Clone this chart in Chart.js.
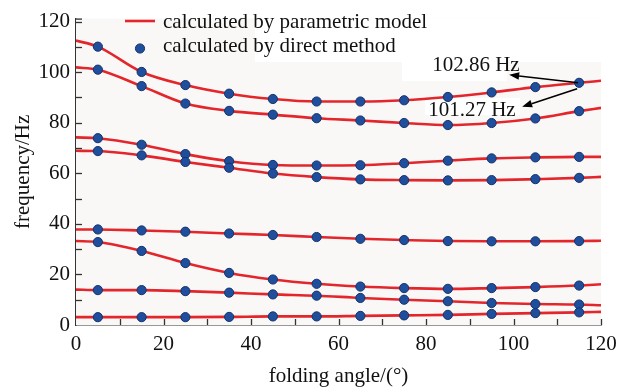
<!DOCTYPE html>
<html>
<head>
<meta charset="utf-8">
<script src="https://cdn.jsdelivr.net/npm/chart.js@4.4.1/dist/chart.umd.min.js"></script>
<style>
  html, body { margin: 0; padding: 0; background: #fff; }
</style>
</head>
<body>
<canvas id="myChart" width="631" height="392"></canvas>
<script>
/* Natural frequencies vs folding angle: parametric model curves and direct-method points. */
const modelAngles = [0, 5, 15, 25, 35, 45, 55, 65, 75, 85, 95, 105, 115, 120];
const directAngles = [5, 15, 25, 35, 45, 55, 65, 75, 85, 95, 105, 115];

const modelMode1 = [3.1, 3.1, 3.1, 3.1, 3.2, 3.4, 3.4, 3.6, 3.8, 4.0, 4.4, 4.7, 5.0, 5.2];
const modelMode2 = [14.0, 13.8, 13.8, 13.4, 12.8, 12.1, 11.6, 10.7, 10.0, 9.4, 8.7, 8.3, 8.1, 7.8];
const modelMode3 = [33.2, 32.8, 29.3, 24.5, 20.6, 18.0, 16.3, 15.2, 14.6, 14.3, 14.6, 15.0, 15.6, 16.1];
const modelMode4 = [37.8, 37.8, 37.4, 36.9, 36.2, 35.6, 34.8, 34.1, 33.6, 33.2, 33.1, 33.1, 33.2, 33.3];
const modelMode5 = [68.9, 68.8, 67.1, 64.5, 62.2, 59.9, 58.5, 57.6, 57.3, 57.2, 57.3, 57.7, 58.2, 58.6];
const modelMode6 = [74.2, 73.9, 71.3, 67.6, 64.8, 63.3, 63.1, 63.2, 64.0, 65.0, 65.9, 66.3, 66.5, 66.5];
const modelMode7 = [101.9, 101.0, 94.5, 87.6, 84.7, 83.2, 81.8, 80.9, 79.9, 79.1, 79.9, 81.7, 84.6, 85.9];
const modelMode8 = [112.5, 110.1, 100.1, 94.9, 91.5, 89.4, 88.4, 88.4, 88.9, 90.2, 92.0, 94.1, 95.8, 96.6];

const directMode1 = [3.1, 3.1, 3.1, 3.2, 3.4, 3.4, 3.6, 3.8, 4.0, 4.4, 4.7, 5.0];
const directMode2 = [13.8, 13.8, 13.4, 12.8, 12.1, 11.6, 10.7, 10.0, 9.4, 8.7, 8.3, 8.1];
const directMode3 = [32.8, 29.3, 24.5, 20.6, 18.0, 16.3, 15.2, 14.6, 14.3, 14.6, 15.0, 15.6];
const directMode4 = [37.8, 37.4, 36.9, 36.2, 35.6, 34.8, 34.1, 33.6, 33.2, 33.1, 33.1, 33.2];
const directMode5 = [68.8, 67.1, 64.5, 62.2, 59.9, 58.5, 57.6, 57.3, 57.2, 57.3, 57.7, 58.2];
const directMode6 = [73.9, 71.3, 67.6, 64.8, 63.3, 63.1, 63.2, 64.0, 65.0, 65.9, 66.3, 66.5];
const directMode7 = [101.0, 94.5, 87.6, 84.7, 83.2, 81.8, 80.9, 79.9, 79.1, 79.9, 81.7, 84.6];
const directMode8 = [110.1, 100.1, 94.9, 91.5, 89.4, 88.4, 88.4, 88.9, 90.2, 92.0, 94.1, 95.8];

const legendLabels = ["calculated by parametric model", "calculated by direct method"];
const xTitle = "folding angle/(°)";
const yTitle = "frequency/Hz";
// the marked point (angle, frequency) and its two labels
const markedPoint = [115, 95.8];
const markLabels = ["102.86 Hz", "101.27 Hz"];

const RED = "#e3262b";
const BLUE = "#1f4f9c";
const AXIS = "#333";
const FONT = { family: "'Liberation Serif', 'Times New Roman', serif", size: 21 };
const FONT_CSS = "21px 'Liberation Serif', 'Times New Roman', serif";

const models = [modelMode1, modelMode2, modelMode3, modelMode4, modelMode5, modelMode6, modelMode7, modelMode8];
const directs = [directMode1, directMode2, directMode3, directMode4, directMode5, directMode6, directMode7, directMode8];

let datasets = [];
models.forEach((vals) => {
  datasets.push({
    label: legendLabels[0],
    data: modelAngles.map((a, i) => ({ x: a, y: vals[i] })),
    showLine: true,
    borderColor: RED,
    borderWidth: 2.6,
    pointRadius: 0,
    cubicInterpolationMode: "monotone",
    fill: false,
    order: 2,
  });
});
directs.forEach((vals) => {
  datasets.push({
    label: legendLabels[1],
    data: directAngles.map((a, i) => ({ x: a, y: vals[i] })),
    showLine: false,
    pointRadius: 4.6,
    pointBackgroundColor: BLUE,
    pointBorderColor: "#15336b",
    pointBorderWidth: 1,
    order: 1,
  });
});

function arrow(ctx, x0, y0, x1, y1) {
  const ang = Math.atan2(y1 - y0, x1 - x0);
  const hl = 10, hw = 3.8;
  const bx = x1 - hl * Math.cos(ang), by = y1 - hl * Math.sin(ang);
  ctx.beginPath();
  ctx.moveTo(x0, y0);
  ctx.lineTo(bx, by);
  ctx.stroke();
  ctx.beginPath();
  ctx.moveTo(x1, y1);
  ctx.lineTo(bx + hw * Math.sin(ang), by - hw * Math.cos(ang));
  ctx.lineTo(bx - hw * Math.sin(ang), by + hw * Math.cos(ang));
  ctx.closePath();
  ctx.fill();
}

/* plot background, with the white boxes behind the legend and the labels */
const backdrop = {
  id: "backdrop",
  beforeDatasetsDraw(chart) {
    const { ctx, chartArea: a } = chart;
    ctx.save();
    ctx.fillStyle = "#faf8f7";
    ctx.fillRect(a.left, a.top, a.right - a.left, a.bottom - a.top);
    ctx.fillStyle = "#ffffff";
    ctx.fillRect(255, a.top, a.right - 255, 62 - a.top);
    ctx.fillRect(402, 62, 105, 19);
    ctx.fillRect(425, 98, 95, 17);
    ctx.restore();
  },
};

/* inward ticks, legend and the arrow labels */
const extras = {
  id: "extras",
  afterDraw(chart) {
    const { ctx, chartArea: a, scales } = chart;
    const xs = scales.x, ys = scales.y;
    ctx.save();
    ctx.strokeStyle = AXIS;
    ctx.lineWidth = 1.3;
    for (let v = 10; v <= 120; v += 10) {
      const px = Math.round(xs.getPixelForValue(v)) + 0.5;
      ctx.beginPath();
      ctx.moveTo(px, a.bottom);
      ctx.lineTo(px, a.bottom - 6);
      ctx.stroke();
    }
    for (let v = 10; v <= 120; v += 10) {
      const py = Math.round(ys.getPixelForValue(v)) + 0.5;
      ctx.beginPath();
      ctx.moveTo(a.left, py);
      ctx.lineTo(a.left + 6, py);
      ctx.stroke();
    }
    ctx.beginPath();
    ctx.moveTo(a.left, a.top + 0.5);
    ctx.lineTo(a.left + 6, a.top + 0.5);
    ctx.stroke();

    // legend
    ctx.font = FONT_CSS;
    ctx.fillStyle = "#111";
    ctx.textBaseline = "alphabetic";
    ctx.textAlign = "left";
    ctx.strokeStyle = RED;
    ctx.lineWidth = 2.6;
    ctx.beginPath();
    ctx.moveTo(125, 21);
    ctx.lineTo(155, 21);
    ctx.stroke();
    ctx.fillText(legendLabels[0], 163, 28);
    ctx.beginPath();
    ctx.arc(140, 48.5, 4.6, 0, Math.PI * 2);
    ctx.fillStyle = BLUE;
    ctx.fill();
    ctx.strokeStyle = "#15336b";
    ctx.lineWidth = 1;
    ctx.stroke();
    ctx.fillStyle = "#111";
    ctx.fillText(legendLabels[1], 163, 52);

    // marked point labels
    const mx = xs.getPixelForValue(markedPoint[0]);
    const my = ys.getPixelForValue(markedPoint[1]);
    ctx.fillText(markLabels[0], mx - 147, my - 12);
    ctx.fillText(markLabels[1], mx - 151, my + 33);
    ctx.strokeStyle = "#000";
    ctx.fillStyle = "#000";
    ctx.lineWidth = 1.6;
    arrow(ctx, mx - 1, my, mx - 70, my - 8);
    arrow(ctx, mx - 2, my + 6, mx - 57, my + 24);
    ctx.restore();
  },
};

const ctx = document.getElementById("myChart");
const chart = new Chart(ctx, {
  type: "scatter",
  data: { datasets: datasets },
  plugins: [backdrop, extras],
  options: {
    responsive: false,
    animation: false,
    layout: { padding: { top: 15, right: 30, left: 0, bottom: 0 } },
    plugins: { legend: { display: false }, tooltip: { enabled: false } },
    scales: {
      x: {
        type: "linear",
        min: 0,
        max: 120,
        grid: { display: false, drawTicks: false },
        border: { display: true, color: AXIS, width: 1.5 },
        ticks: { stepSize: 20, padding: 7, color: "#111", font: FONT },
        title: { display: true, text: xTitle, color: "#111", font: FONT, padding: { top: 0, bottom: 3 } },
        afterFit: (s) => { s.height = 67; },
      },
      y: {
        type: "linear",
        min: 0,
        max: 121.2,
        grid: { display: false, drawTicks: false },
        border: { display: true, color: AXIS, width: 1.5 },
        ticks: { stepSize: 20, includeBounds: false, padding: 6, color: "#111", font: FONT },
        title: { display: true, text: yTitle, color: "#111", font: FONT, padding: { top: 11, bottom: 0 } },
        afterFit: (s) => { s.width = 76; },
      },
    },
  },
});
</script>
</body>
</html>
